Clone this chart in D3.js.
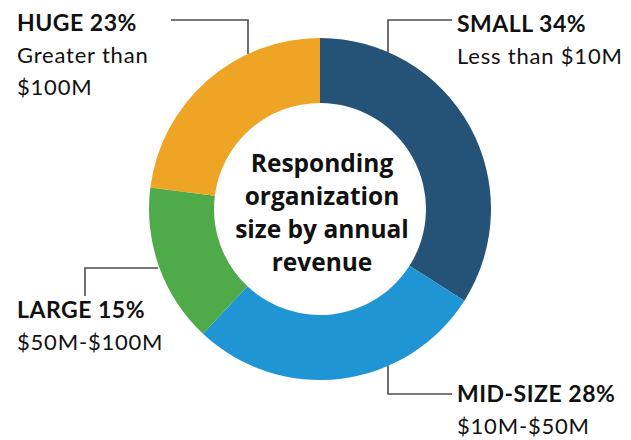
<!DOCTYPE html>
<html>
<head>
<meta charset="utf-8">
<script src="https://cdn.jsdelivr.net/npm/d3@7"></script>
<style>
  html, body { margin: 0; padding: 0; background: #fff; }
  svg { display: block; }
</style>
</head>
<body>
<svg id="chart" width="631" height="440"></svg>
<script>
// Share of responding organizations by annual revenue band
const categories = ["SMALL", "MID-SIZE", "LARGE", "HUGE"];
const shares = [34, 28, 15, 23];
const ranges = ["Less than $10M", "$10M-$50M", "$50M-$100M", "Greater than|$100M"];
const colors = ["#245377", "#1f96d3", "#4faa4a", "#eea525"];
const centerTitle = ["Responding", "organization", "size by annual", "revenue"];

const svg = d3.select("#chart");
const cx = 320, cy = 209, outerR = 171, innerR = 106;

const pie = d3.pie().sort(null).value(d => d.value);
const arc = d3.arc().innerRadius(innerR).outerRadius(outerR);
const data = categories.map((c, i) => ({ name: c, value: shares[i], range: ranges[i], color: colors[i] }));
const arcs = pie(data);

const fontFamily = "Lato, 'Open Sans', sans-serif";

// Leader lines: elbow connectors from each label to its ring segment
const leaders = [
  [[452, 20], [388, 20], [388, 54]],     // SMALL
  [[452, 394], [388, 394], [388, 364]],  // MID-SIZE
  [[85, 296], [85, 268], [158, 268]],    // LARGE
  [[171, 20], [248, 20], [248, 54]]      // HUGE
];
svg.append("g").selectAll("path")
  .data(leaders)
  .join("path")
  .attr("d", d3.line())
  .attr("fill", "none")
  .attr("stroke", "#4d4d4f")
  .attr("stroke-width", 1.6);

const ring = svg.append("g").attr("transform", `translate(${cx},${cy})`);
ring.selectAll("path")
  .data(arcs)
  .join("path")
  .attr("d", arc)
  .attr("fill", d => d.data.color);

// Centre title
const title = svg.append("text")
  .attr("x", cx + 2)
  .attr("text-anchor", "middle")
  .attr("font-family", "'Open Sans', Lato, sans-serif")
  .attr("font-weight", 700)
  .attr("font-size", 24.5)
  .attr("fill", "#111");
centerTitle.forEach((line, i) => {
  title.append("tspan").attr("x", cx + 2).attr("y", 172 + i * 33).text(line);
});

// Category labels
const labelPos = [
  { x: 457, y: 32 },
  { x: 457, y: 402 },
  { x: 17, y: 318 },
  { x: 17, y: 31 }
];
const labels = svg.append("g").selectAll("text")
  .data(data)
  .join("text")
  .attr("font-family", fontFamily)
  .attr("fill", "#111")
  .attr("x", (d, i) => labelPos[i].x)
  .attr("y", (d, i) => labelPos[i].y);

labels.each(function(d, i) {
  const t = d3.select(this);
  t.append("tspan")
    .attr("font-weight", 700)
    .attr("font-size", 23)
    .attr("letter-spacing", 0.5)
    .text(`${d.name} ${d.value}%`);
  d.range.split("|").forEach((line, j) => {
    t.append("tspan")
      .attr("x", labelPos[i].x)
      .attr("dy", j === 0 ? 31.5 : 32)
      .attr("font-weight", 400)
      .attr("font-size", 22)
      .attr("letter-spacing", 0.8)
      .text(line);
  });
});
</script>
</body>
</html>
